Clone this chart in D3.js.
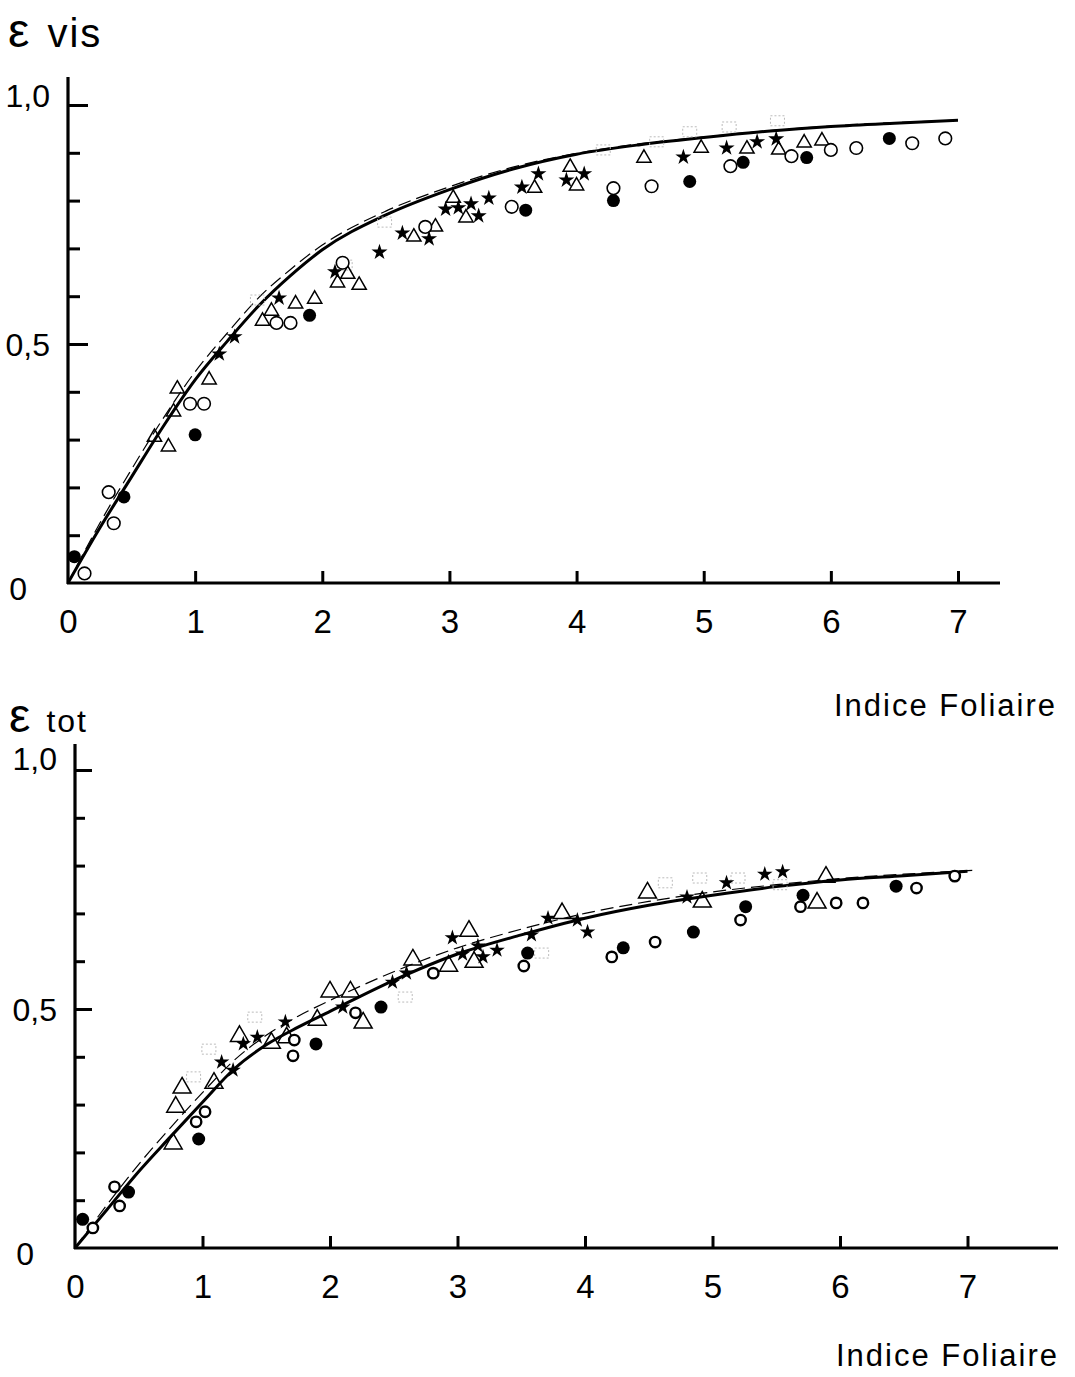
<!DOCTYPE html>
<html>
<head>
<meta charset="utf-8">
<script src="https://cdn.jsdelivr.net/npm/d3@7"></script>
<style>
  html, body { margin: 0; padding: 0; background: #fff; }
  svg { display: block; }
  text { font-family: "Liberation Sans", "DejaVu Sans", sans-serif; fill: #000; }
</style>
</head>
<body>
<svg id="chart" width="1075" height="1377"></svg>
<script>
// ---------------- DATA ----------------
const xTicks = [0, 1, 2, 3, 4, 5, 6, 7];
const yMajorTicks = [0, 0.5, 1];
const yMinorTicks = [0.1, 0.2, 0.3, 0.4, 0.6, 0.7, 0.8, 0.9];
const yTickLabels = ["0", "0,5", "1,0"];
const xAxisTitle = "Indice Foliaire";

// --- Top panel: ε vis ---
const visCurveSolid = [[0,0],[0.25,0.115],[0.5,0.222],[0.75,0.328],[1,0.425],[1.25,0.505],[1.5,0.58],[1.75,0.643],[2,0.697],[2.5,0.77],[3,0.823],[3.5,0.866],[4,0.897],[4.5,0.917],[5,0.932],[5.5,0.945],[6,0.955],[6.5,0.962],[7,0.968]];
const visCurveDashed = [[0,0],[0.25,0.125],[0.5,0.238],[0.75,0.345],[1,0.442],[1.25,0.522],[1.5,0.597],[1.75,0.656],[2,0.707],[2.5,0.778],[3,0.829],[3.5,0.87],[4,0.899],[4.5,0.919],[5,0.933],[5.5,0.946],[6,0.956],[6.5,0.963],[7,0.968]];
const visFilledCircles = [[0.05,0.055],[0.44,0.18],[1.0,0.31],[1.9,0.56],[3.6,0.78],[4.29,0.80],[4.89,0.84],[5.31,0.88],[5.81,0.89],[6.46,0.93]];
const visOpenCircles = [[0.13,0.02],[0.32,0.19],[0.36,0.125],[0.96,0.375],[1.07,0.375],[1.64,0.544],[1.75,0.544],[2.16,0.67],[2.81,0.745],[3.49,0.787],[4.29,0.826],[4.59,0.83],[5.21,0.872],[5.69,0.893],[6.0,0.906],[6.2,0.91],[6.64,0.92],[6.9,0.93]];
const visTriangles = [[0.68,0.305],[0.79,0.285],[0.83,0.358],[0.86,0.406],[1.11,0.425],[1.53,0.548],[1.60,0.569],[1.79,0.584],[1.94,0.594],[2.12,0.628],[2.20,0.646],[2.29,0.623],[2.72,0.724],[2.89,0.745],[3.03,0.805],[3.13,0.764],[3.67,0.826],[3.95,0.870],[4.00,0.831],[4.53,0.889],[4.98,0.910],[5.34,0.908],[5.59,0.906],[5.79,0.921],[5.93,0.925]];
const visStars = [[1.19,0.479],[1.31,0.515],[1.66,0.596],[2.10,0.651],[2.45,0.692],[2.63,0.732],[2.84,0.720],[2.97,0.782],[3.07,0.785],[3.17,0.793],[3.23,0.768],[3.31,0.805],[3.57,0.828],[3.70,0.856],[3.92,0.843],[4.06,0.856],[4.84,0.891],[5.18,0.910],[5.42,0.923],[5.57,0.929]];
const visSquares = [[1.49,0.592],[2.18,0.665],[2.49,0.755],[4.21,0.906],[4.63,0.923],[4.89,0.944],[5.20,0.954],[5.58,0.967]];

// --- Bottom panel: ε tot ---
const totCurveSolid = [[0,0],[0.25,0.08],[0.5,0.16],[0.75,0.233],[1,0.305],[1.25,0.375],[1.5,0.425],[1.75,0.462],[2,0.495],[2.5,0.56],[3,0.615],[3.5,0.655],[4,0.69],[4.5,0.717],[5,0.738],[5.5,0.756],[6,0.77],[6.5,0.779],[7,0.788]];
const totCurveDashed = [[0,0],[0.25,0.09],[0.5,0.175],[0.75,0.252],[1,0.325],[1.25,0.393],[1.5,0.445],[1.75,0.485],[2,0.518],[2.5,0.578],[3,0.628],[3.5,0.667],[4,0.70],[4.5,0.725],[5,0.745],[5.5,0.76],[6,0.773],[6.5,0.782],[7.05,0.79]];
const totFilledCircles = [[0.06,0.06],[0.42,0.117],[0.97,0.228],[1.89,0.427],[2.40,0.504],[3.55,0.617],[4.30,0.628],[4.85,0.661],[5.26,0.714],[5.71,0.738],[6.44,0.757]];
const totOpenCircles = [[0.14,0.042],[0.31,0.128],[0.35,0.088],[0.95,0.264],[1.02,0.285],[1.71,0.402],[1.72,0.435],[2.20,0.492],[2.81,0.575],[3.52,0.59],[4.21,0.609],[4.55,0.64],[5.22,0.686],[5.69,0.714],[5.97,0.722],[6.18,0.722],[6.60,0.753],[6.90,0.778]];
const totTriangles = [[0.77,0.218],[0.79,0.295],[0.84,0.335],[1.09,0.345],[1.29,0.443],[1.54,0.429],[1.66,0.44],[1.90,0.477],[2.0,0.536],[2.16,0.536],[2.26,0.471],[2.65,0.603],[2.93,0.59],[3.09,0.663],[3.13,0.598],[3.82,0.70],[4.49,0.743],[4.92,0.724],[5.82,0.722],[5.89,0.776]];
const totStars = [[1.15,0.389],[1.24,0.372],[1.32,0.427],[1.43,0.441],[1.65,0.473],[2.10,0.504],[2.49,0.556],[2.60,0.575],[2.96,0.649],[3.04,0.615],[3.16,0.632],[3.2,0.609],[3.31,0.623],[3.58,0.655],[3.71,0.69],[3.94,0.686],[4.02,0.661],[4.80,0.734],[5.11,0.764],[5.41,0.782],[5.55,0.787]];
const totSquares = [[0.93,0.358],[1.05,0.416],[1.41,0.483],[2.59,0.525],[3.66,0.617],[4.63,0.764],[4.90,0.774],[5.20,0.774],[5.53,0.76]];

// ---------------- DRAWING ----------------
const svg = d3.select("#chart");
svg.append("rect").attr("width", 1075).attr("height", 1377).attr("fill", "#fff");

function drawPanel(cfg) {
  const g = svg.append("g");
  const x = d3.scaleLinear().domain([0, 7]).range([cfg.x0, cfg.x7]);
  const y = d3.scaleLinear().domain([0, 1]).range([cfg.y0, cfg.y1]);

  // axis lines
  g.append("line").attr("x1", x(0)).attr("x2", x(0)).attr("y1", cfg.yTop).attr("y2", y(0) + 1)
    .attr("stroke", "#000").attr("stroke-width", 3.2);
  g.append("line").attr("x1", x(0) - 1).attr("x2", cfg.xRight).attr("y1", y(0)).attr("y2", y(0))
    .attr("stroke", "#000").attr("stroke-width", 3.2);

  // x ticks (inside, upward) + labels
  const xAx = d3.axisBottom(x).tickValues(xTicks).tickSize(-12).tickPadding(27)
    .tickFormat(d3.format("d"));
  const xg = g.append("g").attr("transform", `translate(0,${y(0)})`).call(xAx);
  xg.select(".domain").remove();
  xg.selectAll(".tick line").attr("stroke-width", 3).filter(d => d === 0).remove();
  xg.selectAll(".tick text").attr("font-size", 33).attr("font-family", "Liberation Sans, sans-serif")
    .attr("fill", "#000");

  // y ticks (inside, to the right)
  const yMin = d3.axisLeft(y).tickValues(yMinorTicks).tickSize(-cfg.minorLen).tickFormat("");
  const ymg = g.append("g").attr("transform", `translate(${x(0)},0)`).call(yMin);
  ymg.select(".domain").remove();
  ymg.selectAll(".tick line").attr("stroke-width", 3);

  const yMaj = d3.axisLeft(y).tickValues(yMajorTicks).tickSize(-cfg.majorLen).tickPadding(18)
    .tickFormat((d, i) => yTickLabels[i]);
  const yMg = g.append("g").attr("transform", `translate(${x(0)},0)`).call(yMaj);
  yMg.select(".domain").remove();
  yMg.selectAll(".tick line").attr("stroke-width", 3).filter(d => d === 0).remove();
  yMg.selectAll(".tick text").attr("font-size", 32).attr("font-family", "Liberation Sans, sans-serif")
    .attr("fill", "#000")
    .attr("dy", d => d === 1 ? cfg.oneDy : (d === 0 ? "0.5em" : "0.35em"))
    .attr("x", d => d === 0 ? -41 : -18);

  // curves
  const line = d3.line().x(d => x(d[0])).y(d => y(d[1])).curve(d3.curveMonotoneX);
  g.append("path").datum(cfg.dashed).attr("d", line).attr("fill", "none")
    .attr("stroke", "#000").attr("stroke-width", 1.2).attr("stroke-dasharray", "13,6");
  g.append("path").datum(cfg.solid).attr("d", line).attr("fill", "none")
    .attr("stroke", "#000").attr("stroke-width", 3);

  // faint dotted squares
  g.selectAll(".sq").data(cfg.squares).enter().append("rect")
    .attr("x", d => x(d[0]) - 7).attr("y", d => y(d[1]) - 5)
    .attr("width", 14).attr("height", 10)
    .attr("fill", "none").attr("stroke", "#bbb").attr("stroke-width", 1).attr("stroke-dasharray", "2,2");

  // triangles
  const tri = d3.symbol().type(d3.symbolTriangle).size(cfg.triSize);
  g.selectAll(".tri").data(cfg.triangles).enter().append("path")
    .attr("d", tri).attr("transform", d => `translate(${x(d[0])},${y(d[1])})`)
    .attr("fill", "#fff").attr("fill-opacity", 0).attr("stroke", "#000").attr("stroke-width", 1.5);

  // open circles
  g.selectAll(".oc").data(cfg.open).enter().append("circle")
    .attr("cx", d => x(d[0])).attr("cy", d => y(d[1])).attr("r", cfg.openR)
    .attr("fill", "#fff").attr("stroke", "#000").attr("stroke-width", cfg.openW);

  // filled circles
  g.selectAll(".fc").data(cfg.filled).enter().append("circle")
    .attr("cx", d => x(d[0])).attr("cy", d => y(d[1])).attr("r", 6.5).attr("fill", "#000");

  // stars
  const star = d3.symbol().type(d3.symbolStar).size(cfg.starSize);
  g.selectAll(".st").data(cfg.stars).enter().append("path")
    .attr("d", star).attr("transform", d => `translate(${x(d[0])},${y(d[1])})`)
    .attr("fill", "#000");

  // x title
  g.append("text").attr("x", cfg.titleX).attr("y", cfg.titleY)
    .attr("font-size", 31).attr("letter-spacing", 2).text(xAxisTitle);

  // y title
  const yt = g.append("text").attr("x", cfg.yTitleX).attr("y", cfg.yTitleY);
  yt.append("tspan").attr("font-size", cfg.epsSize).text("ε");
  yt.append("tspan").attr("dx", cfg.yTitleGap).attr("font-size", cfg.subSize)
    .attr("letter-spacing", 2).text(cfg.sub);
}

drawPanel({
  x0: 68, x7: 958, y0: 583, y1: 105, yTop: 77, xRight: 1000,
  minorLen: 12, majorLen: 20, oneDy: "0.05em",
  solid: visCurveSolid, dashed: visCurveDashed,
  filled: visFilledCircles, open: visOpenCircles, triangles: visTriangles,
  stars: visStars, squares: visSquares,
  triSize: 88, starSize: 80, openR: 6.3, openW: 1.6,
  titleX: 834, titleY: 716,
  yTitleX: 8, yTitleY: 47, epsSize: 48, sub: "vis", subSize: 40, yTitleGap: 18
});

drawPanel({
  x0: 75, x7: 967.5, y0: 1248, y1: 770, yTop: 744, xRight: 1058,
  minorLen: 10, majorLen: 17, oneDy: "-0.02em",
  solid: totCurveSolid, dashed: totCurveDashed,
  filled: totFilledCircles, open: totOpenCircles, triangles: totTriangles,
  stars: totStars, squares: totSquares,
  triSize: 140, starSize: 75, openR: 5.2, openW: 2.4,
  titleX: 836, titleY: 1366,
  yTitleX: 9, yTitleY: 732, epsSize: 48, sub: "tot", subSize: 32, yTitleGap: 16
});
</script>
</body>
</html>
